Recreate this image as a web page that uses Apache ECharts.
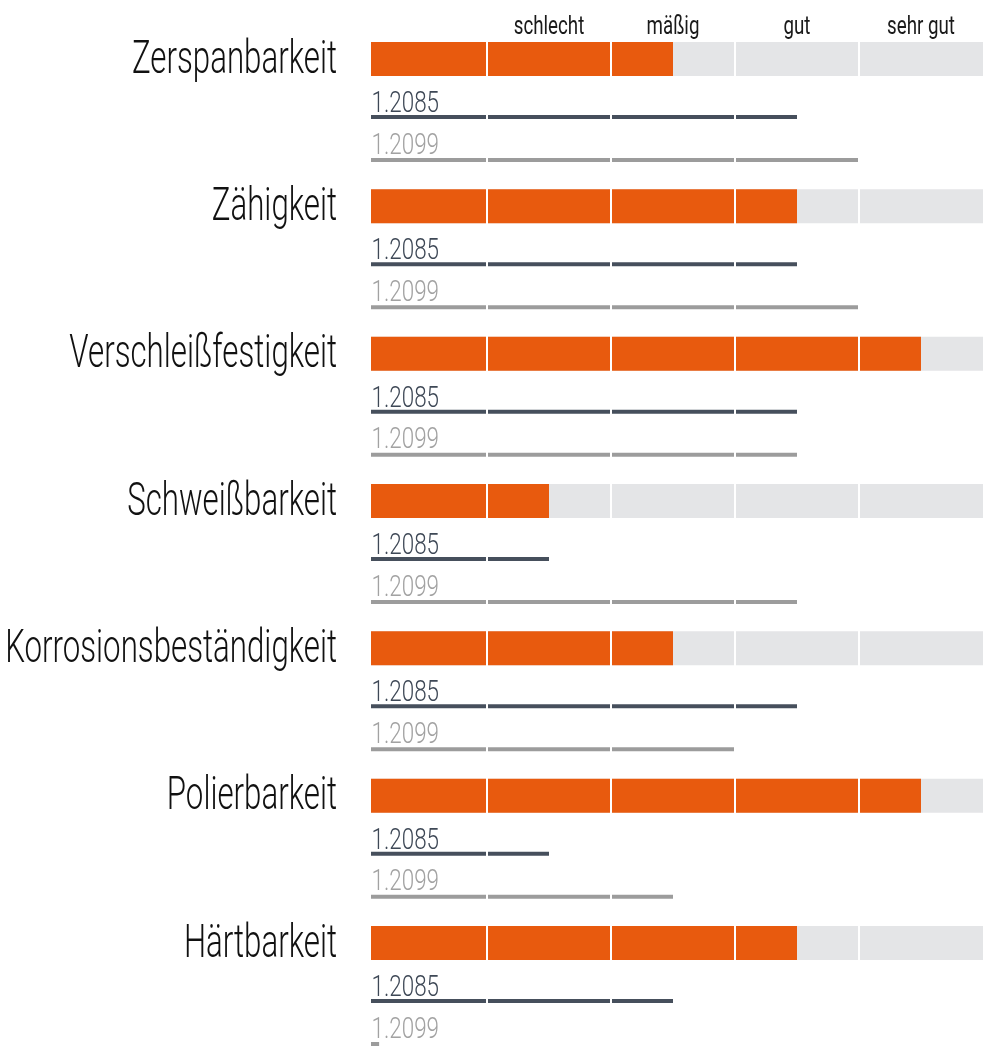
<!DOCTYPE html>
<html><head><meta charset="utf-8">
<script src="https://cdn.jsdelivr.net/npm/echarts@6/dist/echarts.min.js"></script>
<style>html,body{margin:0;padding:0;background:#fff}#c{width:1000px;height:1057px}</style>
</head><body><div id="c"></div>
<script>
// ---- data ----
const properties = ['Zerspanbarkeit', 'Zähigkeit', 'Verschleißfestigkeit', 'Schweißbarkeit', 'Korrosionsbeständigkeit', 'Polierbarkeit', 'Härtbarkeit'];
const ratingLabels = ['', 'schlecht', 'mäßig', 'gut', 'sehr gut'];
const mainValues = [2.5, 3.5, 4.5, 1.5, 2.5, 4.5, 3.5];
const steel2085 = [3.5, 3.5, 3.5, 1.5, 3.5, 1.5, 2.5];
const steel2099 = [4, 4, 3.5, 3.5, 3, 2.5, 0.13];
const compareNames = ['1.2085', '1.2099'];
const scaleMax = 5;
const segmentBounds = [1, 2, 3, 4];

// ---- style ----
const FONT = 'Roboto';
const C_ORANGE = '#E85A0E', C_TRACK = '#E4E5E7', C_DARK = '#464F5C', C_GRAY = '#9C9C9C';
const C_DARK_TXT = '#3E4856', C_GRAY_TXT = '#A2A2A2';
const TRACK_INSET = 8;
const NAME_SIZE = 47, NAME_SX = 0.665, NAME_MAXW = 345, NAME_W = 300;
const NUM_SIZE = 29.5, NUM_SX = 0.76;
const HEAD_SIZE = 25, HEAD_SX = 0.75;

const mctx = document.createElement('canvas').getContext('2d');
function tw(text, size, weight) { mctx.font = weight + ' ' + size + 'px ' + FONT; return mctx.measureText(text).width; }

function renderRow(params, api) {
  const idx = api.value(0);
  const origin = api.coord([0, idx]);
  const yc = origin[1];
  const x0 = origin[0] + TRACK_INSET;
  const xv = v => api.coord([v, idx])[0];
  const xEnd = xv(scaleMax);
  const name = properties[idx];
  let nsize = NAME_SIZE;
  const w = tw(name, nsize, NAME_W) * NAME_SX;
  if (w > NAME_MAXW) nsize = nsize * NAME_MAXW / w;
  const kids = [];
  kids.push({ type: 'text', x: origin[0] - 26, y: yc + 2, scaleX: NAME_SX,
    style: { text: name, x: 0, y: 0, align: 'right', verticalAlign: 'middle', fill: '#111', fontFamily: FONT, fontSize: nsize, fontWeight: NAME_W } });
  kids.push({ type: 'rect', shape: { x: x0, y: yc - 17, width: xEnd - x0, height: 34 }, style: { fill: C_TRACK } });
  kids.push({ type: 'rect', shape: { x: x0, y: yc - 17, width: xv(api.value(1)) - x0, height: 34 }, style: { fill: C_ORANGE } });
  kids.push({ type: 'text', x: x0 + 0.5, y: yc + 45.5, scaleX: NUM_SX,
    style: { text: compareNames[0], x: 0, y: 0, align: 'left', verticalAlign: 'middle', fill: C_DARK_TXT, fontFamily: FONT, fontSize: NUM_SIZE, fontWeight: 300 } });
  kids.push({ type: 'rect', shape: { x: x0, y: yc + 56, width: xv(api.value(2)) - x0, height: 4 }, style: { fill: C_DARK } });
  kids.push({ type: 'text', x: x0 + 0.5, y: yc + 87.3, scaleX: NUM_SX,
    style: { text: compareNames[1], x: 0, y: 0, align: 'left', verticalAlign: 'middle', fill: C_GRAY_TXT, fontFamily: FONT, fontSize: NUM_SIZE, fontWeight: 300 } });
  kids.push({ type: 'rect', shape: { x: x0, y: yc + 99, width: xv(api.value(3)) - x0, height: 4 }, style: { fill: C_GRAY } });
  segmentBounds.forEach(b => {
    kids.push({ type: 'rect', shape: { x: xv(b) - 1, y: yc - 18, width: 2, height: 122 }, style: { fill: '#fff' } });
  });
  return { type: 'group', children: kids };
}

function renderHead(params, api) {
  const i = api.value(0);
  const t = ratingLabels[i];
  if (!t) return null;
  const p = api.coord([i, 0]);
  return { type: 'text', x: p[0], y: p[1] - 31, scaleX: HEAD_SX,
    style: { text: t, x: 0, y: 0, align: 'center', verticalAlign: 'middle', fill: '#1a1a1a', fontFamily: FONT, fontSize: HEAD_SIZE, fontWeight: 400 } };
}

const chart = echarts.init(document.getElementById('c'), null, { renderer: 'canvas' });
chart.setOption({
  animation: false,
  backgroundColor: '#fff',
  grid: { left: 363, right: 17, top: 59, bottom: 114 },
  xAxis: [
    { type: 'value', min: 0, max: scaleMax, show: false },
    { type: 'category', data: ratingLabels, position: 'top', show: false, boundaryGap: true }
  ],
  yAxis: { type: 'category', data: properties, inverse: true, boundaryGap: false, show: false },
  series: [
    { type: 'custom', xAxisIndex: 0, yAxisIndex: 0, clip: false, silent: true,
      data: properties.map((p, i) => [i, mainValues[i], steel2085[i], steel2099[i]]),
      encode: { y: 0, x: 1 }, renderItem: renderRow },
    { type: 'custom', xAxisIndex: 1, yAxisIndex: 0, clip: false, silent: true,
      data: ratingLabels.map((t, i) => [i, 0]), encode: { x: 0, y: 1 }, renderItem: renderHead }
  ]
});
</script></body></html>
